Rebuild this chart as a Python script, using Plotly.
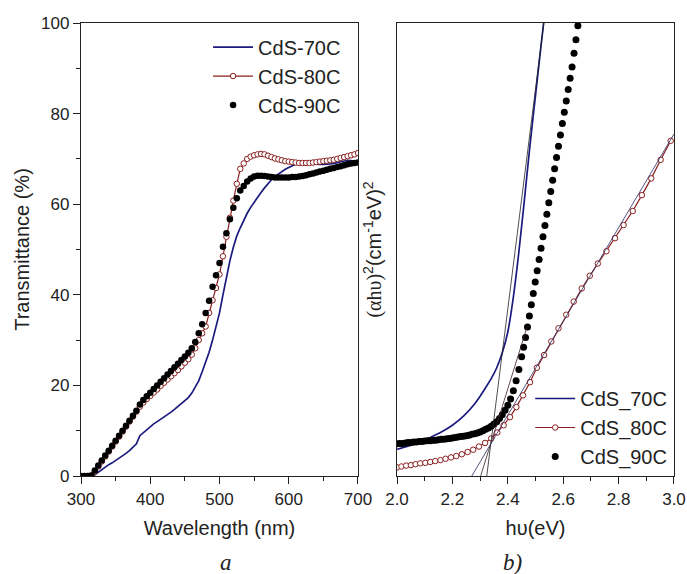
import plotly.graph_objects as go

# ---------------- Panel a: transmittance vs wavelength ----------------
wavelength = list(range(300, 705, 5))  # nm, 5 nm grid

T_70C = [0, 0, 0, 0, 0.3, 0.9, 1.5, 2.0, 2.5, 2.9, 3.4, 3.9, 4.5, 5.0, 5.6, 6.3, 7.1,
         8.9, 9.6, 10.3, 11.0, 11.5, 12.0, 12.5, 13.0, 13.5, 14.1, 14.7, 15.3, 15.9, 16.5,
         17.3, 18.3, 19.5, 21.0, 23.0, 25.0, 27.3, 30.0, 33.0, 36.0,
         40.0, 44.0, 47.5, 50.5, 53.0, 54.8, 56.5, 58.0, 59.3, 60.5,
         61.6, 62.6, 63.6, 64.6, 65.4, 66.1, 66.7, 67.2, 67.7, 68.1,
         68.5, 68.8, 69.0, 69.1, 69.1, 69.0, 68.9, 68.8, 68.8, 68.8,
         68.8, 68.9, 69.0, 69.2, 69.4, 69.6, 69.7, 69.6, 69.5, 69.6]

T_80C = [0, 0, 0, 0.1, 1.0, 2.1, 3.2, 4.3, 5.4, 6.5, 7.6, 8.7, 9.8, 10.9, 12.0, 13.1, 14.2,
         15.3, 16.2, 17.0, 17.7, 18.4, 19.1, 19.9, 20.6, 21.3, 22.0, 22.7, 23.4, 24.2, 25.0,
         25.8, 26.8, 28.2, 30.0, 31.5, 33.0, 36.0, 38.8, 41.5, 44.5,
         48.5, 52.8, 57.0, 60.8, 64.5, 67.8, 69.0, 70.0, 70.5, 70.8,
         71.0, 71.1, 71.0, 70.7, 70.4, 70.1, 69.9, 69.7, 69.5, 69.4,
         69.3, 69.2, 69.1, 69.1, 69.1, 69.1, 69.2, 69.3, 69.4, 69.5,
         69.6, 69.7, 69.8, 70.0, 70.2, 70.4, 70.6, 70.8, 71.0, 71.3]

T_90C = [0, 0, 0, 0.1, 1.2, 2.3, 3.4, 4.5, 5.6, 6.7, 7.8, 8.9, 10.0, 11.1, 12.2, 13.3, 14.4,
         15.8, 16.8, 17.6, 18.4, 19.2, 20.0, 20.8, 21.6, 22.4, 23.2, 24.0, 24.8, 25.6, 26.4,
         27.2, 28.2, 29.6, 31.5, 33.5, 36.0, 38.7, 41.8, 44.3, 47.0,
         50.6, 53.6, 56.7, 59.2, 61.3, 63.0, 64.0, 65.0, 65.7, 66.1,
         66.3, 66.3, 66.2, 66.1, 66.0, 65.9, 65.9, 65.9, 65.9, 65.9,
         66.0, 66.0, 66.1, 66.2, 66.4, 66.6, 66.8, 67.0, 67.2, 67.4,
         67.6, 67.8, 68.0, 68.2, 68.4, 68.6, 68.8, 69.0, 69.1, 69.2]

# ---------------- Panel b: Tauc plot (arbitrary units) ----------------
E_70C = [2.00, 2.04, 2.08, 2.12, 2.16, 2.20, 2.24, 2.28, 2.30, 2.32, 2.34, 2.36, 2.38,
         2.40, 2.42, 2.44, 2.46, 2.48, 2.50, 2.52, 2.535]
A_70C = [5.9, 6.6, 7.4, 8.5, 9.7, 11.2, 13.2, 15.9, 17.6, 19.5, 21.5, 23.9, 27.2,
         31.8, 39.5, 49.5, 61.0, 73.0, 84.0, 95.0, 103.0]

E_80C = [2.000, 2.016, 2.033, 2.050, 2.067, 2.084, 2.102, 2.120, 2.138, 2.157, 2.175,
         2.195, 2.214, 2.234, 2.255, 2.275, 2.296, 2.318, 2.340, 2.362, 2.385, 2.408,
         2.431, 2.455, 2.480, 2.505, 2.531, 2.557, 2.583, 2.611, 2.638, 2.667, 2.696,
         2.725, 2.756, 2.787, 2.818, 2.851, 2.884, 2.918, 2.952, 2.988]
A_80C = [1.9, 2.1, 2.3, 2.4, 2.6, 2.8, 2.9, 3.1, 3.3, 3.5, 3.8,
         4.1, 4.4, 4.8, 5.3, 5.8, 6.5, 7.3, 8.3, 9.6, 11.2, 13.0,
         15.2, 17.8, 20.7, 23.9, 26.7, 29.7, 32.6, 35.6, 38.5, 41.4, 44.2,
         46.9, 49.6, 52.5, 55.4, 58.5, 62.0, 65.7, 69.8, 74.0]

E_90C = [2.00, 2.01, 2.02, 2.03, 2.04, 2.05, 2.06, 2.07, 2.08, 2.09,
         2.10, 2.11, 2.12, 2.13, 2.14, 2.15, 2.16, 2.17, 2.18, 2.19,
         2.20, 2.21, 2.22, 2.23, 2.24, 2.25, 2.26, 2.27, 2.28, 2.29,
         2.30, 2.31, 2.32, 2.33, 2.34, 2.35, 2.36, 2.37, 2.38, 2.39,
         2.40, 2.41, 2.42, 2.43, 2.44, 2.45,
         2.457, 2.464, 2.471, 2.478, 2.485, 2.492, 2.499, 2.506, 2.513, 2.520,
         2.527, 2.534, 2.541, 2.548, 2.555, 2.562, 2.569, 2.576, 2.583, 2.590,
         2.597, 2.604, 2.611, 2.618, 2.625, 2.632, 2.639, 2.646, 2.653, 2.660]
A_90C = [7.1, 7.2, 7.2, 7.3, 7.4, 7.4, 7.5, 7.5, 7.6, 7.6,
         7.7, 7.8, 7.8, 7.9, 7.9, 8.0, 8.1, 8.1, 8.2, 8.3,
         8.4, 8.5, 8.6, 8.7, 8.8, 8.9, 9.0, 9.2, 9.3, 9.5,
         9.7, 10.0, 10.3, 10.6, 11.0, 11.5, 12.0, 12.7, 13.5, 14.5,
         15.6, 17.0, 18.8, 21.0, 23.5, 26.3,
         28.4, 30.6, 32.9, 35.3, 37.8, 40.3, 42.8, 45.3, 47.8, 50.3,
         52.8, 55.3, 57.8, 60.3, 62.8, 65.3, 67.8, 70.3, 72.8, 75.3,
         77.8, 80.3, 82.8, 85.3, 87.8, 90.3, 93.3, 96.3, 99.4, 102.5]

# linear fits (band-gap extrapolations)
fit70_E, fit70_A = [2.324, 2.530], [0, 100]
fit90_E, fit90_A = [2.302, 2.470], [0, 33]
fit80_E, fit80_A = [2.270, 3.000], [0, 75.5]

NAVY = "#1b1a7e"
DRED = "#8a1f1f"
FONT = "Liberation Sans"
INK = "#222222"

fig = go.Figure()

# Panel a traces
fig.add_trace(go.Scatter(x=wavelength, y=T_70C, mode="lines", name="CdS-70C",
                         line=dict(color=NAVY, width=1.7), xaxis="x", yaxis="y",
                         legend="legend"))
fig.add_trace(go.Scatter(x=wavelength, y=T_80C, mode="lines+markers", name="CdS-80C",
                         line=dict(color=DRED, width=1.2),
                         marker=dict(symbol="circle", size=5.5, color="white",
                                     line=dict(color=DRED, width=1)),
                         xaxis="x", yaxis="y", legend="legend"))
fig.add_trace(go.Scatter(x=wavelength, y=T_90C, mode="markers", name="CdS-90C",
                         marker=dict(symbol="circle", size=6.5, color="black"),
                         xaxis="x", yaxis="y", legend="legend"))

# Panel b traces
fig.add_trace(go.Scatter(x=E_70C, y=A_70C, mode="lines", name="CdS_70C",
                         line=dict(color=NAVY, width=1.7, shape="spline", smoothing=1.0),
                         xaxis="x2", yaxis="y2", legend="legend2"))
fig.add_trace(go.Scatter(x=E_80C, y=A_80C, mode="lines+markers", name="CdS_80C",
                         line=dict(color=DRED, width=1.2),
                         marker=dict(symbol="circle", size=5.5, color="white",
                                     line=dict(color=DRED, width=1)),
                         xaxis="x2", yaxis="y2", legend="legend2"))
fig.add_trace(go.Scatter(x=E_90C, y=A_90C, mode="markers", name="CdS_90C",
                         marker=dict(symbol="circle", size=7, color="black"),
                         xaxis="x2", yaxis="y2", legend="legend2"))
for fx, fy, col in [(fit70_E, fit70_A, "#222222"), (fit90_E, fit90_A, "#3a1f2a"),
                    (fit80_E, fit80_A, "#2a2a60")]:
    fig.add_trace(go.Scatter(x=fx, y=fy, mode="lines", showlegend=False,
                             line=dict(color=col, width=0.8),
                             xaxis="x2", yaxis="y2", hoverinfo="skip"))

axis_common = dict(showline=True, mirror=True, linecolor=INK, linewidth=1.3,
                   showgrid=False, zeroline=False, ticks="outside", ticklen=7,
                   tickwidth=1.2, tickcolor=INK, automargin=False,
                   tickfont=dict(family=FONT, size=17, color=INK))

fig.update_layout(
    width=687, height=574,
    margin=dict(l=81, r=13, t=23, b=98),
    paper_bgcolor="white", plot_bgcolor="white",
    font=dict(family=FONT, color=INK),
    xaxis=dict(domain=[0, 0.4671], range=[300, 700], tick0=300, dtick=100,
               minor=dict(ticks="outside", ticklen=4, dtick=50, tickcolor=INK),
               title=dict(text="Wavelength (nm)", font=dict(size=20), standoff=13),
               anchor="y", **axis_common),
    yaxis=dict(domain=[0, 1], range=[0, 100], tick0=0, dtick=20,
               minor=dict(ticks="outside", ticklen=4, dtick=10, tickcolor=INK),
               title=dict(text="Transmittance (%)", font=dict(size=20), standoff=6),
               anchor="x", **axis_common),
    xaxis2=dict(domain=[0.5329, 1], range=[2.0, 3.0], tick0=2.0, dtick=0.2,
                tickformat=".1f",
                minor=dict(ticks="outside", ticklen=4, dtick=0.1, tickcolor=INK),
                title=dict(text="h\u03c5(eV)", font=dict(size=20), standoff=13),
                anchor="y2", **axis_common),
    yaxis2=dict(domain=[0, 1], range=[0, 100], anchor="x2", automargin=False,
                showline=True, mirror=True, linecolor=INK, linewidth=1.3,
                showgrid=False, zeroline=False, ticks="", showticklabels=False,
                title=dict(text="<span style='font-family:Liberation Serif'>(\u03b1h\u03c5)</span>"
                                "<sup>2</sup>(cm<sup>-1</sup>eV)<sup>2</sup>",
                           font=dict(size=20), standoff=8)),
    legend=dict(x=0.447, xanchor="right", y=0.99, yanchor="top",
                bgcolor="rgba(0,0,0,0)", font=dict(family=FONT, size=20),
                tracegroupgap=0, itemwidth=40),
    legend2=dict(x=0.997, xanchor="right", y=0.0, yanchor="bottom",
                 bgcolor="rgba(0,0,0,0)", font=dict(family=FONT, size=20),
                 tracegroupgap=0, itemwidth=40),
    annotations=[
        dict(text="<i>a</i>", xref="paper", yref="paper", x=0.245, y=-0.19,
             xanchor="center", yanchor="middle", showarrow=False,
             font=dict(family="Liberation Serif", size=23, color=INK)),
        dict(text="<i>b)</i>", xref="paper", yref="paper", x=0.727, y=-0.19,
             xanchor="center", yanchor="middle", showarrow=False,
             font=dict(family="Liberation Serif", size=23, color=INK)),
    ],
)

fig.write_html("out.html", config={"displayModeBar": False},
               post_script="document.body.style.margin='0';"
                           "document.body.style.overflow='hidden';")
